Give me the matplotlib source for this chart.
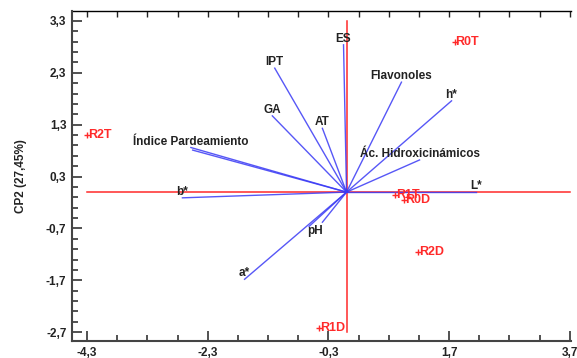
import matplotlib
matplotlib.use("Agg")
import matplotlib.pyplot as plt
from matplotlib.ticker import FixedLocator, FuncFormatter
import numpy as np

plt.rcParams['font.family'] = ['Liberation Sans', 'DejaVu Sans']

# Variable vectors (loadings)
var_names = ["ES", "Flavonoles", "h*", "AT", "Ác. Hidroxicinámicos", "IPT", "GA",
             "Índice Pardeamiento", "", "b*", "a*", "pH", "", "L*"]
var_x = [-0.05, 0.91, 1.74, -0.40, 1.21, -1.19, -1.23, -2.58, -2.55, -2.72, -1.69, -0.62, -0.40, 2.15]
var_y = [2.84, 2.12, 1.76, 1.23, 0.62, 2.39, 1.47, 0.86, 0.81, -0.11, -1.68, -0.66, -0.58, 0.00]

# Samples (scores)
obs_names = ["R0T", "R2T", "R1T", "R0D", "R2D", "R1D"]
obs_x = [1.79, -4.30, 0.81, 0.96, 1.19, -0.45]
obs_y = [2.89, 1.11, -0.05, -0.16, -1.16, -2.62]

xticks = [-4.3, -2.3, -0.3, 1.7, 3.7]
yticks = [-2.7, -1.7, -0.7, 0.3, 1.3, 2.3, 3.3]

fig = plt.figure(figsize=(5.77, 3.58), dpi=100)
ax = fig.add_axes([0.1248, 0.0475, 0.8648, 0.9215])
ax.set_xlim(-4.55, 3.72)
ax.set_ylim(-2.87, 3.49)

blue = "#3a3af5"
red = "#ff2a2a"

# reference axes lines
ax.plot([xticks[0], xticks[-1]], [0, 0], color=red, lw=1.1, zorder=2)
ax.plot([0, 0], [yticks[0], yticks[-1]], color=red, lw=1.1, zorder=2)

# vectors
for n, x, y in zip(var_names, var_x, var_y):
    ax.plot([0, x], [0, y], color=blue, lw=1.0, alpha=0.85, zorder=3)
    if n:
        off = (0, 6)
        if n == "pH":
            off = (6, -5)
        ax.annotate(n, (x, y), xytext=off, textcoords='offset pixels',
                    ha='center', va='center', fontsize=8.5, fontweight='bold',
                    color='#222222', zorder=5)

# samples
ax.scatter(obs_x, obs_y, marker='+', s=22, color=red, linewidths=1.0, zorder=4)
for n, x, y in zip(obs_names, obs_x, obs_y):
    ax.annotate(n, (x, y), xytext=(1, 0), textcoords='offset pixels',
                ha='left', va='center', fontsize=9, fontweight='bold',
                color=red, zorder=5)

fmt = FuncFormatter(lambda v, p: f"{v:.1f}".replace(".", ","))
ax.xaxis.set_major_locator(FixedLocator(xticks))
ax.yaxis.set_major_locator(FixedLocator(yticks))
ax.xaxis.set_minor_locator(FixedLocator(np.arange(-4.3, 3.75, 0.5)))
ax.yaxis.set_minor_locator(FixedLocator(np.arange(-2.7, 3.35, 0.2)))
ax.xaxis.set_major_formatter(fmt)
ax.yaxis.set_major_formatter(fmt)

ax.tick_params(axis='both', which='major', direction='in', length=7, width=1.2,
               color='#333333', labelsize=8.5, pad=4)
ax.tick_params(axis='both', which='minor', direction='in', length=4, width=1.2,
               color='#333333')
for lab in ax.get_xticklabels() + ax.get_yticklabels():
    lab.set_fontweight('bold')
    lab.set_color('#222222')

# top ticks
sec = ax.secondary_xaxis('top')
sec.set_xticks(list(np.arange(-4.3, 3.75, 0.5)))
sec.tick_params(direction='in', length=4, width=1.0, labeltop=False, color='#222222')
sec.spines['top'].set_linewidth(1.0)

ax.spines['right'].set_visible(False)
ax.spines['top'].set_visible(False)
ax.spines['left'].set_linewidth(1.5)
ax.spines['bottom'].set_linewidth(1.5)
ax.spines['left'].set_color('#444444')
ax.spines['bottom'].set_color('#444444')

ax.set_ylabel("CP2 (27,45%)", fontsize=8.5, fontweight='bold', color='#222222', labelpad=14)

fig.savefig("out.png", dpi=100)
